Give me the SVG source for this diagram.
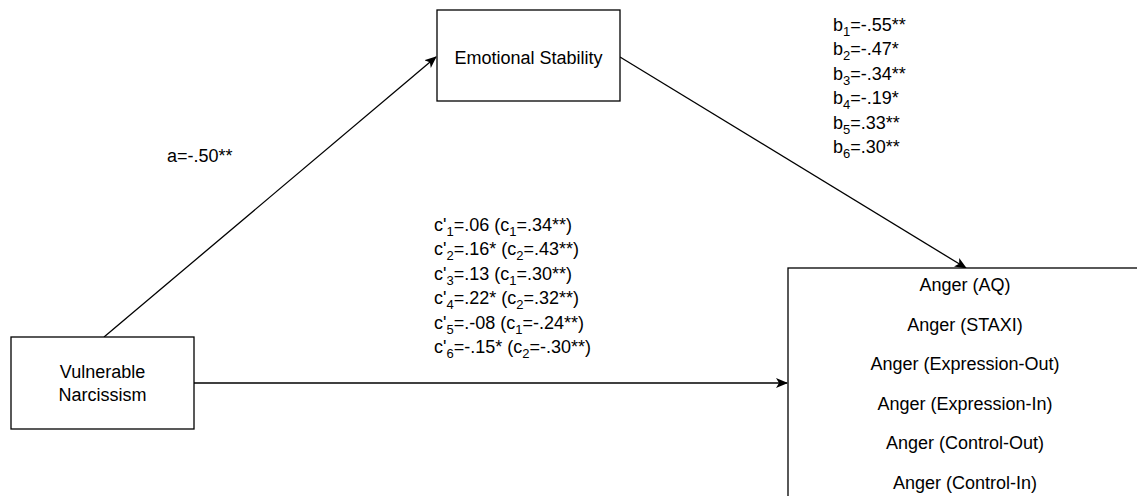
<svg xmlns="http://www.w3.org/2000/svg" width="1137" height="496" viewBox="0 0 1137 496">
<style>
  .box { fill: #ffffff; stroke: #000000; stroke-width: 1.3; }
  .edge { fill: none; stroke: #000000; stroke-width: 1.3; }
  text { font-family: "Liberation Sans", Arial, sans-serif; font-size: 18px; fill: #000000; }
  .c { text-anchor: middle; }
  .sub { font-size: 13px; }
</style>
<defs>
  <marker id="arr" markerWidth="14" markerHeight="12" refX="11" refY="5" orient="auto" markerUnits="userSpaceOnUse">
    <path d="M0,0 L12,5 L0,10 L3,5 z" fill="#000000"/>
  </marker>
</defs>
<rect width="1137" height="496" fill="#ffffff"/>
<g id="connectors">
  <line class="edge" x1="104" y1="337" x2="436" y2="57" marker-end="url(#arr)"/>
  <line class="edge" x1="620" y1="57" x2="966" y2="268" marker-end="url(#arr)"/>
  <line class="edge" x1="194" y1="383" x2="787" y2="383" marker-end="url(#arr)"/>
</g>
<g id="node-emotional-stability">
  <rect class="box" x="437" y="10" width="183" height="91"/>
  <text class="c" x="528.5" y="64">Emotional Stability</text>
</g>
<g id="node-vulnerable-narcissism">
  <rect class="box" x="11" y="337" width="183" height="92"/>
  <text class="c" x="102.5" y="378">Vulnerable</text>
  <text class="c" x="102.5" y="401">Narcissism</text>
</g>
<g id="node-anger">
  <rect class="box" x="788" y="268" width="400" height="260"/>
  <text class="c" x="965" y="291">Anger (AQ)</text>
  <text class="c" x="965" y="331">Anger (STAXI)</text>
  <text class="c" x="965" y="370">Anger (Expression-Out)</text>
  <text class="c" x="965" y="410">Anger (Expression-In)</text>
  <text class="c" x="965" y="449">Anger (Control-Out)</text>
  <text class="c" x="965" y="489">Anger (Control-In)</text>
</g>
<g id="labels">
  <text x="167" y="162">a=-.50**</text>
  <text x="833" y="31">b<tspan class="sub" dy="5">1</tspan><tspan dy="-5">=-.55**</tspan></text>
  <text x="833" y="55.4">b<tspan class="sub" dy="5">2</tspan><tspan dy="-5">=-.47*</tspan></text>
  <text x="833" y="79.8">b<tspan class="sub" dy="5">3</tspan><tspan dy="-5">=-.34**</tspan></text>
  <text x="833" y="104.2">b<tspan class="sub" dy="5">4</tspan><tspan dy="-5">=-.19*</tspan></text>
  <text x="833" y="128.6">b<tspan class="sub" dy="5">5</tspan><tspan dy="-5">=.33**</tspan></text>
  <text x="833" y="153">b<tspan class="sub" dy="5">6</tspan><tspan dy="-5">=.30**</tspan></text>
  <text x="434" y="231">c'<tspan class="sub" dy="5">1</tspan><tspan dy="-5">=.06 (c</tspan><tspan class="sub" dy="5">1</tspan><tspan dy="-5">=.34**)</tspan></text>
  <text x="434" y="255.4">c'<tspan class="sub" dy="5">2</tspan><tspan dy="-5">=.16* (c</tspan><tspan class="sub" dy="5">2</tspan><tspan dy="-5">=.43**)</tspan></text>
  <text x="434" y="279.8">c'<tspan class="sub" dy="5">3</tspan><tspan dy="-5">=.13 (c</tspan><tspan class="sub" dy="5">1</tspan><tspan dy="-5">=.30**)</tspan></text>
  <text x="434" y="304.2">c'<tspan class="sub" dy="5">4</tspan><tspan dy="-5">=.22* (c</tspan><tspan class="sub" dy="5">2</tspan><tspan dy="-5">=.32**)</tspan></text>
  <text x="434" y="328.6">c'<tspan class="sub" dy="5">5</tspan><tspan dy="-5">=.-08 (c</tspan><tspan class="sub" dy="5">1</tspan><tspan dy="-5">=-.24**)</tspan></text>
  <text x="434" y="353">c'<tspan class="sub" dy="5">6</tspan><tspan dy="-5">=-.15* (c</tspan><tspan class="sub" dy="5">2</tspan><tspan dy="-5">=-.30**)</tspan></text>
</g>
</svg>
